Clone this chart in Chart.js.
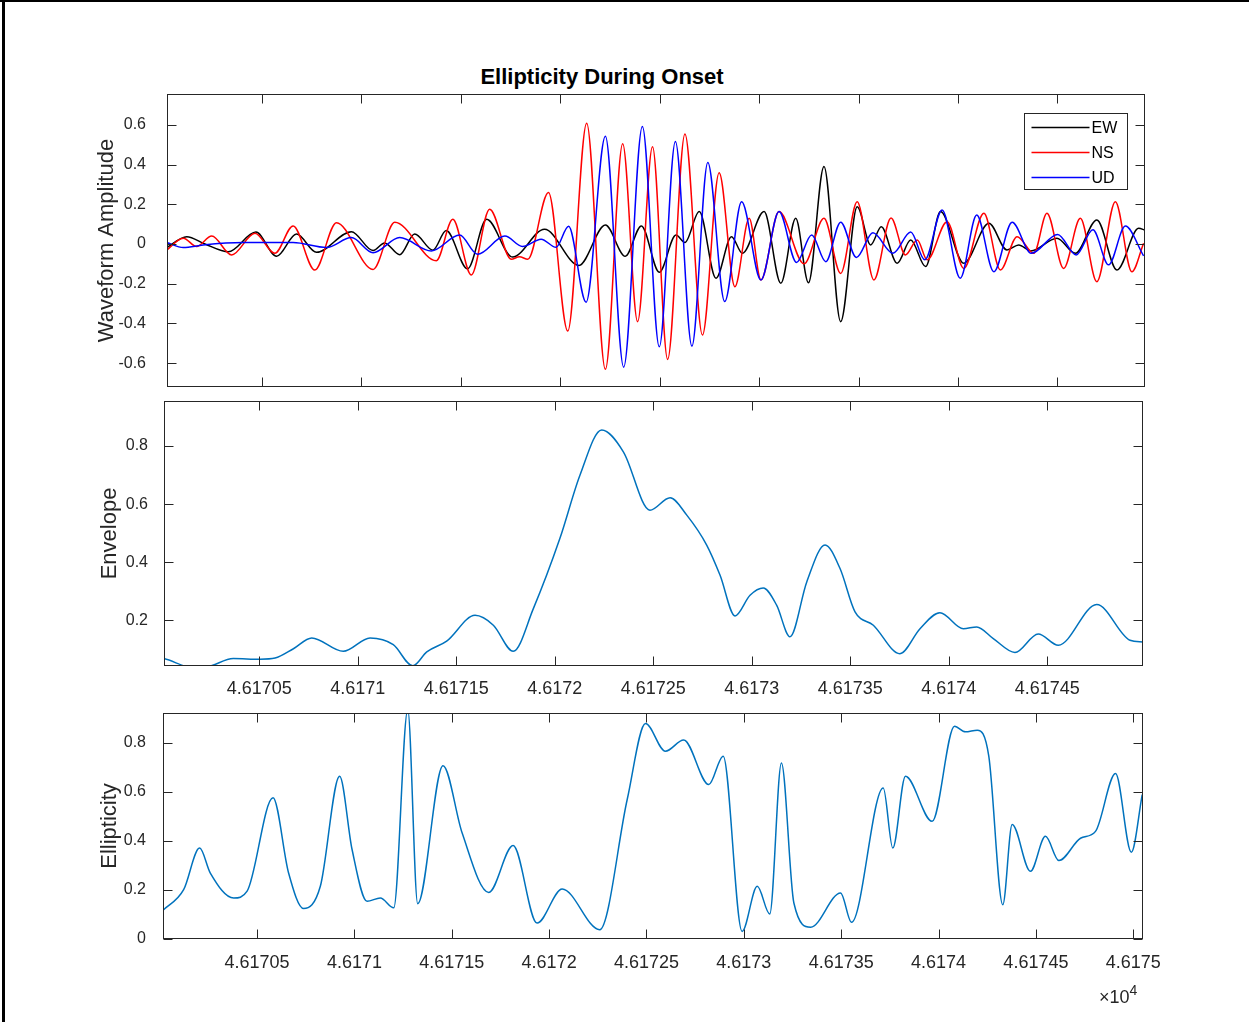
<!DOCTYPE html>
<html><head><meta charset="utf-8">
<script src="https://cdn.jsdelivr.net/npm/chart.js@4.4.1/dist/chart.umd.min.js"></script>
<style>
html,body{margin:0;padding:0;background:#fff;}
#wrap{position:relative;width:1249px;height:1022px;overflow:hidden;background:#fff;font-family:"Liberation Sans",Arial,Helvetica,sans-serif;color:#262626;}
canvas{position:absolute;left:0;}
#frameL{position:absolute;left:2px;top:0;width:3px;height:1022px;background:#000;}
#frameT{position:absolute;left:0;top:0;width:1249px;height:2px;background:#000;}
#title{position:absolute;left:352px;width:500px;text-align:center;top:64px;font-weight:bold;font-size:22px;line-height:26px;color:#000;}
#exp{position:absolute;left:1099px;top:980px;font-size:18px;line-height:22px;color:#262626;}
#exp sup{font-size:14px;position:relative;top:-1px;}
</style></head>
<body>
<div id="wrap">
  <div id="frameL"></div><div id="frameT"></div>
  <div id="title">Ellipticity During Onset</div>
  <canvas id="c1" width="1249" height="395" style="top:0;width:1249px;height:395px"></canvas>
  <canvas id="c2" width="1249" height="315" style="top:395px;width:1249px;height:315px"></canvas>
  <canvas id="c3" width="1249" height="312" style="top:710px;width:1249px;height:312px"></canvas>
  <div id="exp">&times;10<sup>4</sup></div>
</div>
<script>
// ---------- data (time in seconds, x10^4 shown on axis) ----------
const ewTime = [46170.022,46170.122,46170.214,46170.331,46170.47,46170.574,46170.674,46170.775,46170.95,46171.059,46171.117,46171.193,46171.268,46171.36,46171.427,46171.534,46171.63,46171.76,46171.921,46172.094,46172.227,46172.327,46172.408,46172.498,46172.582,46172.627,46172.699,46172.783,46172.861,46172.916,46173.025,46173.109,46173.184,46173.248,46173.326,46173.41,46173.493,46173.561,46173.614,46173.694,46173.762,46173.837,46173.912,46174.029,46174.155,46174.246,46174.305,46174.366,46174.497,46174.59,46174.698,46174.799,46174.908,46174.94];
const ewAmp  = [-0.018,0.037,0.0,-0.039,0.06,-0.062,0.05,-0.042,0.062,-0.033,0.005,-0.054,0.05,-0.031,0.068,-0.125,0.124,-0.066,0.074,-0.108,0.095,-0.062,0.091,-0.142,0.045,0.007,0.163,-0.173,0.037,-0.047,0.163,-0.198,0.129,-0.195,0.39,-0.391,0.188,-0.005,0.087,-0.097,0.02,-0.114,0.163,-0.097,0.104,-0.03,-0.005,-0.035,0.029,-0.047,0.121,-0.131,0.079,0.07];

const nsTime = [46170.013,46170.105,46170.172,46170.248,46170.348,46170.465,46170.565,46170.657,46170.766,46170.875,46171.059,46171.168,46171.377,46171.46,46171.553,46171.645,46171.754,46171.795,46171.837,46171.941,46172.038,46172.133,46172.227,46172.314,46172.389,46172.464,46172.54,46172.627,46172.715,46172.799,46172.878,46172.95,46173.009,46173.1,46173.226,46173.326,46173.41,46173.493,46173.577,46173.663,46173.736,46173.795,46173.845,46173.945,46174.029,46174.13,46174.213,46174.297,46174.381,46174.447,46174.531,46174.615,46174.698,46174.791,46174.874,46174.933];
const nsAmp  = [-0.039,0.029,-0.013,0.04,-0.055,0.054,-0.047,0.091,-0.131,0.107,-0.128,0.109,-0.084,0.124,-0.156,0.175,-0.077,-0.064,-0.077,0.259,-0.438,0.608,-0.631,0.504,-0.391,0.49,-0.581,0.554,-0.458,0.359,-0.215,0.129,-0.181,0.163,-0.1,0.129,-0.148,0.213,-0.181,0.131,-0.055,0.02,-0.08,0.112,-0.123,0.155,-0.131,0.037,-0.047,0.155,-0.123,0.129,-0.19,0.213,-0.14,0.004];

const udTime = [46170.022,46170.105,46170.205,46170.406,46170.657,46170.825,46170.95,46171.059,46171.193,46171.352,46171.494,46171.584,46171.722,46171.81,46171.904,46171.979,46172.042,46172.13,46172.227,46172.319,46172.413,46172.498,46172.579,46172.662,46172.742,46172.827,46172.912,46173.009,46173.1,46173.188,46173.264,46173.335,46173.41,46173.489,46173.572,46173.673,46173.762,46173.833,46173.92,46174.011,46174.094,46174.18,46174.272,46174.368,46174.501,46174.594,46174.678,46174.757,46174.841,46174.933];
const udAmp  = [0.007,-0.018,-0.005,0.007,0.007,-0.018,0.032,-0.044,0.032,-0.035,0.045,-0.052,0.04,-0.013,0.024,-0.017,0.089,-0.293,0.542,-0.62,0.592,-0.518,0.516,-0.514,0.41,-0.29,0.212,-0.181,0.163,-0.093,0.045,-0.089,0.11,-0.068,0.056,-0.047,0.06,-0.08,0.171,-0.173,0.146,-0.14,0.11,-0.047,0.048,-0.055,0.071,-0.105,0.09,-0.06];

const envTime = [46169.996,46170.016,46170.12,46170.19,46170.26,46170.368,46170.504,46170.58,46170.673,46170.766,46170.926,46171.062,46171.18,46171.279,46171.35,46171.451,46171.595,46171.688,46171.789,46171.891,46172.026,46172.128,46172.238,46172.348,46172.483,46172.585,46172.67,46172.771,46172.839,46172.915,46172.991,46173.058,46173.126,46173.194,46173.279,46173.372,46173.448,46173.524,46173.617,46173.752,46173.854,46173.955,46174.074,46174.142,46174.226,46174.336,46174.454,46174.556,46174.751,46174.92,46174.986];
const envVal  = [0.07,0.068,0.042,0.028,0.044,0.068,0.066,0.07,0.102,0.139,0.093,0.139,0.116,0.043,0.091,0.128,0.217,0.183,0.093,0.24,0.482,0.70,0.855,0.78,0.579,0.622,0.562,0.459,0.355,0.215,0.286,0.311,0.252,0.143,0.332,0.459,0.378,0.229,0.183,0.085,0.171,0.226,0.171,0.177,0.137,0.089,0.153,0.114,0.254,0.131,0.125];

const ellTime = [46170.017,46170.123,46170.205,46170.26,46170.38,46170.449,46170.582,46170.662,46170.739,46170.825,46170.924,46170.988,46171.065,46171.133,46171.202,46171.274,46171.325,46171.455,46171.553,46171.69,46171.815,46171.938,46172.067,46172.26,46172.401,46172.495,46172.597,46172.691,46172.82,46172.894,46172.991,46173.069,46173.133,46173.193,46173.257,46173.343,46173.497,46173.553,46173.716,46173.765,46173.83,46173.967,46174.082,46174.138,46174.199,46174.258,46174.33,46174.378,46174.472,46174.549,46174.618,46174.729,46174.806,46174.909,46174.99,46175.046];
const ellVal  = [0.117,0.201,0.371,0.269,0.167,0.195,0.576,0.269,0.124,0.215,0.664,0.365,0.154,0.167,0.127,0.936,0.144,0.707,0.433,0.19,0.381,0.065,0.204,0.038,0.569,0.879,0.766,0.812,0.63,0.746,0.031,0.215,0.102,0.718,0.147,0.048,0.188,0.068,0.616,0.371,0.664,0.48,0.868,0.845,0.852,0.746,0.14,0.467,0.276,0.419,0.32,0.411,0.439,0.675,0.354,0.589];

const seriesNames = ['EW','NS','UD'];
const seriesColors = ['#000000','#ff0000','#0000ff'];
const lineColor = '#0072BD';
const yLabels = ['Waveform Amplitude','Envelope','Ellipticity'];

// ---------- helpers ----------
const FONT = '"Liberation Sans", Arial, Helvetica, sans-serif';
const AX = '#262626';
Chart.defaults.font.family = FONT;
const pts = (ts, vs) => ts.slice(0, Math.min(ts.length, vs.length)).map((t,i)=>({x:t, y:vs[i]}));
const fmtX = v => String(parseFloat((v/1e4).toFixed(6)));
const fmtY = v => { const r = Math.round(v*100)/100; return r === 0 ? '0' : String(r); };

const boxPlugin = {
  id:'mlBox',
  afterDraw(chart){
    const {ctx, chartArea:a, scales} = chart;
    ctx.save();
    ctx.strokeStyle = AX; ctx.lineWidth = 1;
    const L = Math.round(a.left)+0.5, R = Math.round(a.right)-0.5, T = Math.round(a.top)+0.5, B = Math.round(a.bottom)-0.5;
    const tl = 9;
    ctx.beginPath();
    scales.x.ticks.forEach(t=>{
      const p = Math.round(scales.x.getPixelForValue(t.value))+0.5;
      ctx.moveTo(p,B); ctx.lineTo(p,B-tl); ctx.moveTo(p,T); ctx.lineTo(p,T+tl);
    });
    scales.y.ticks.forEach(t=>{
      const p = Math.round(scales.y.getPixelForValue(t.value))+0.5;
      ctx.moveTo(L,p); ctx.lineTo(L+tl,p); ctx.moveTo(R,p); ctx.lineTo(R-tl,p);
    });
    ctx.stroke();
    ctx.strokeRect(L,T,R-L,B-T);
    ctx.restore();
  }
};

const legendPlugin = {
  id:'mlLegend',
  afterDraw(chart){
    const {ctx, chartArea:a} = chart;
    const ds = chart.data.datasets;
    const w = 103, h = 76;
    const x0 = Math.round(a.right - 18 - w) + 0.5, y0 = Math.round(a.top + 19) + 0.5;
    ctx.save();
    ctx.fillStyle = '#fff'; ctx.fillRect(x0, y0, w, h);
    ctx.strokeStyle = AX; ctx.lineWidth = 1; ctx.strokeRect(x0, y0, w, h);
    ctx.font = '16px ' + FONT; ctx.textBaseline = 'middle'; ctx.textAlign = 'left';
    ds.forEach((d,i)=>{
      const y = y0 + 14 + i*25;
      ctx.strokeStyle = d.borderColor; ctx.lineWidth = 1.4;
      ctx.beginPath(); ctx.moveTo(x0+7, y); ctx.lineTo(x0+65, y); ctx.stroke();
      ctx.fillStyle = '#000'; ctx.fillText(d.label, x0+67, y+1);
    });
    ctx.restore();
  }
};

function xScale(min, max, showLabels, h, pad){
  return {
    type:'linear', min, max,
    grid:{display:false, drawTicks:false}, border:{display:false},
    ticks:{display:showLabels, stepSize:0.5, includeBounds:false, autoSkip:false, maxRotation:0, minRotation:0,
           padding:pad, color:AX, font:{size:18, family:FONT}, callback: fmtX},
    afterFit(s){ s.height = h; s.paddingLeft = 0; s.paddingRight = 0; }
  };
}
function yScale(min, max, label, w, pad){
  return {
    type:'linear', min, max,
    grid:{display:false, drawTicks:false}, border:{display:false},
    ticks:{stepSize:0.2, includeBounds:false, padding:pad, color:AX, font:{size:16, family:FONT}, callback: fmtY},
    title:{display:true, text:label, color:AX, font:{size:22, family:FONT}, padding:0},
    afterFit(s){ s.width = w; s.paddingTop = 0; s.paddingBottom = 0; }
  };
}
const common = {
  responsive:false, animation:false, devicePixelRatio:1,
  plugins:{legend:{display:false}, tooltip:{enabled:false}, title:{display:false}},
  elements:{line:{borderWidth:1.5, cubicInterpolationMode:'monotone', fill:false}, point:{radius:0, hoverRadius:0}},
  events:[]
};

// ---------- top: waveforms ----------
new Chart(document.getElementById('c1'), {
  type:'line',
  data:{datasets:[
    {label:seriesNames[0], data:pts(ewTime, ewAmp), borderColor:seriesColors[0], order:2},
    {label:seriesNames[1], data:pts(nsTime, nsAmp), borderColor:seriesColors[1], order:1},
    {label:seriesNames[2], data:pts(udTime, udAmp), borderColor:seriesColors[2], order:0}
  ]},
  options:Object.assign({}, common, {
    layout:{padding:{left:94, right:104, top:94, bottom:0}},
    scales:{ x:xScale(46170.023, 46174.94, false, 8, 11), y:yScale(-0.72, 0.755, yLabels[0], 73, 21) }
  }),
  plugins:[boxPlugin, legendPlugin]
});

// ---------- middle: envelope ----------
new Chart(document.getElementById('c2'), {
  type:'line',
  data:{datasets:[{label:yLabels[1], data:pts(envTime, envVal), borderColor:lineColor}]},
  options:Object.assign({}, common, {
    layout:{padding:{left:97, right:106, top:6, bottom:0}},
    scales:{ x:xScale(46170.016, 46174.986, true, 44, 12), y:yScale(0.0425, 0.955, yLabels[1], 67, 16) }
  }),
  plugins:[boxPlugin]
});

// ---------- bottom: ellipticity ----------
new Chart(document.getElementById('c3'), {
  type:'line',
  data:{datasets:[{label:yLabels[2], data:pts(ellTime, ellVal), borderColor:lineColor}]},
  options:Object.assign({}, common, {
    layout:{padding:{left:97, right:106, top:3, bottom:0}},
    scales:{ x:xScale(46170.017, 46175.05, true, 83, 13), y:yScale(0, 0.922, yLabels[2], 66, 17) }
  }),
  plugins:[boxPlugin]
});
</script>
</body></html>
